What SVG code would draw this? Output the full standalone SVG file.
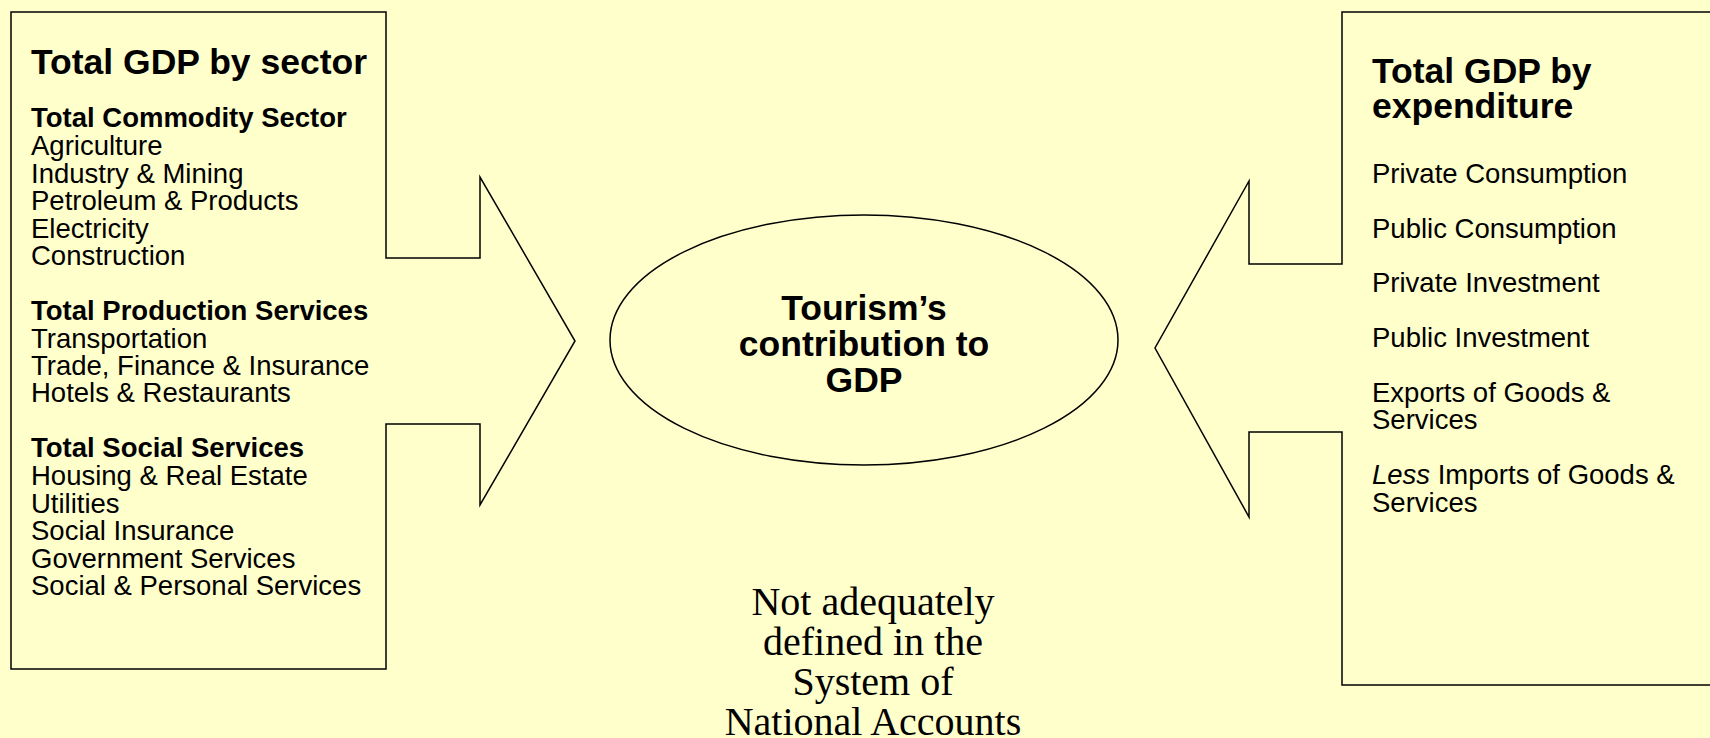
<svg xmlns="http://www.w3.org/2000/svg" width="1710" height="738" viewBox="0 0 1710 738">
<style>
.shape{fill:#FFFFCC;stroke:#000;stroke-width:1.5;stroke-linejoin:miter}
.t{font-family:"Liberation Sans",Arial,sans-serif;font-size:27.5px;fill:#000}
.b{font-weight:bold}
.h{font-family:"Liberation Sans",Arial,sans-serif;font-size:35.5px;font-weight:bold;fill:#000}
.s{font-family:"Liberation Serif","Times New Roman",serif;font-size:40px;fill:#000;text-anchor:middle}
</style>
<rect width="1710" height="738" fill="#FFFFCC"/>
<g id="connectors"/>
<g id="sector-node">
<path class="shape" d="M11,12 H386 V258 H480 V177 L575,341 L480,505 V424 H386 V669 H11 Z"/>
<text class="h" x="31" y="74">Total GDP by sector</text>
<text class="t b" x="31" y="127">Total Commodity Sector</text>
<text class="t" x="31" y="155">Agriculture</text>
<text class="t" x="31" y="182.5">Industry &amp; Mining</text>
<text class="t" x="31" y="210">Petroleum &amp; Products</text>
<text class="t" x="31" y="237.5">Electricity</text>
<text class="t" x="31" y="265">Construction</text>
<text class="t b" x="31" y="320">Total Production Services</text>
<text class="t" x="31" y="347.5">Transportation</text>
<text class="t" x="31" y="375">Trade, Finance &amp; Insurance</text>
<text class="t" x="31" y="402">Hotels &amp; Restaurants</text>
<text class="t b" x="31" y="457">Total Social Services</text>
<text class="t" x="31" y="485">Housing &amp; Real Estate</text>
<text class="t" x="31" y="512.5">Utilities</text>
<text class="t" x="31" y="540">Social Insurance</text>
<text class="t" x="31" y="567.5">Government Services</text>
<text class="t" x="31" y="595">Social &amp; Personal Services</text>
</g>
<g id="expenditure-node">
<path class="shape" d="M1342,12 H1715 V685 H1342 V432 H1249 V517 L1155,348 L1249,181 V264 H1342 Z"/>
<text class="h" x="1372" y="83">Total GDP by</text>
<text class="h" x="1372" y="118">expenditure</text>
<text class="t" x="1372" y="182.5">Private Consumption</text>
<text class="t" x="1372" y="238">Public Consumption</text>
<text class="t" x="1372" y="292">Private Investment</text>
<text class="t" x="1372" y="346.5">Public Investment</text>
<text class="t" x="1372" y="401.5">Exports of Goods &amp;</text>
<text class="t" x="1372" y="429">Services</text>
<text class="t" x="1372" y="483.5"><tspan font-style="italic">Less</tspan> Imports of Goods &amp;</text>
<text class="t" x="1372" y="511.5">Services</text>
</g>
<g id="tourism-node">
<ellipse class="shape" cx="864" cy="340" rx="254" ry="125"/>
<text class="h" x="864" y="320" text-anchor="middle">Tourism’s</text>
<text class="h" x="864" y="356" text-anchor="middle">contribution to</text>
<text class="h" x="864" y="392" text-anchor="middle">GDP</text>
</g>
<g id="note">
<text class="s" x="873" y="615">Not adequately</text>
<text class="s" x="873" y="655">defined in the</text>
<text class="s" x="873" y="695">System of</text>
<text class="s" x="873" y="735">National Accounts</text>
</g>
</svg>
